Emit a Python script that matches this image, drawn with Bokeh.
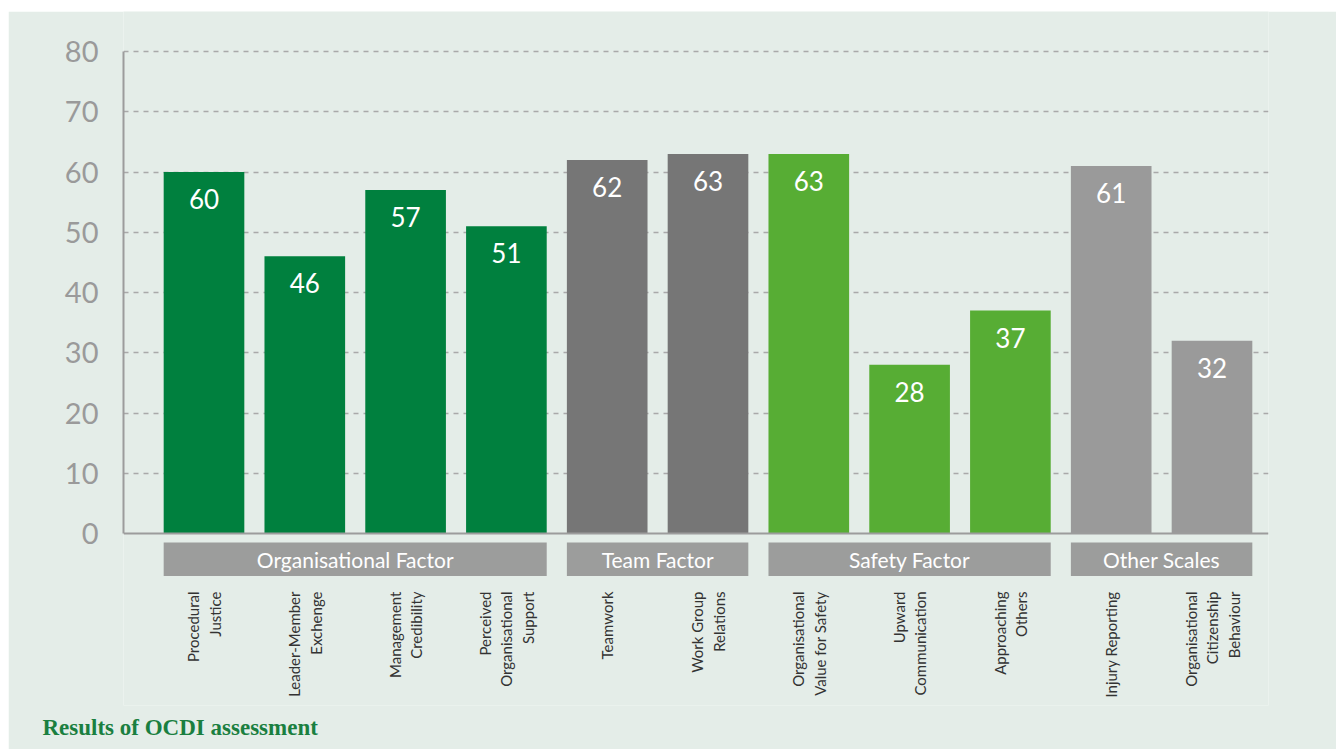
import math
from bokeh.plotting import figure
from bokeh.models import Range1d, FixedTicker, ColumnDataSource, Title, Spacer
from bokeh.layouts import column, row
from bokeh.core.properties import value
from bokeh.embed import file_html
from bokeh.resources import INLINE

# ---------------- data ----------------
categories = [
    "Procedural\nJustice",
    "Leader-Member\nExchenge",
    "Management\nCredibility",
    "Perceived\nOrganisational\nSupport",
    "Teamwork",
    "Work Group\nRelations",
    "Organisational\nValue for Safety",
    "Upward\nCommunication",
    "Approaching\nOthers",
    "Injury Reporting",
    "Organisational\nCitizenship\nBehaviour",
]
scores = [60, 46, 57, 51, 62, 63, 63, 28, 37, 61, 32]
groups = ["Organisational Factor"] * 4 + ["Team Factor"] * 2 + ["Safety Factor"] * 3 + ["Other Scales"] * 2
group_names = ["Organisational Factor", "Team Factor", "Safety Factor", "Other Scales"]
y_ticks = [0, 10, 20, 30, 40, 50, 60, 70, 80]
title_text = "Results of OCDI assessment"

# ---------------- style ----------------
BG = "#e4ede8"
group_colors = {
    "Organisational Factor": "#00803e",
    "Team Factor": "#767676",
    "Safety Factor": "#57ad34",
    "Other Scales": "#9a9a9a",
}
BOX_GREY = "#9c9d9c"
AXIS_GREY = "#9c9c9c"
GRID_GREY = "#a9a9a9"
FONT = "Lato"

# page geometry (page pixels)
FIG_LEFT, FIG_TOP = 8, 11
W, H = 1328, 738
FRAME_L, FRAME_R = 123, 1268
FRAME_T, FRAME_B = FIG_TOP, 705
Y0_PX = 533
px_per_unit = 6.025
bar_c0, bar_step = 203.5, 100.8

x_start = (FRAME_L - bar_c0) / bar_step
x_end = (FRAME_R - bar_c0) / bar_step
y_end = (Y0_PX - FRAME_T) / px_per_unit
y_start = -(FRAME_B - Y0_PX) / px_per_unit

p = figure(
    width=W, height=H, output_backend="svg", toolbar_location=None,
    x_range=Range1d(x_start, x_end), y_range=Range1d(y_start, y_end),
    x_axis_location=None, title=None,
    min_border_left=FRAME_L - FIG_LEFT, min_border_right=FIG_LEFT + W - FRAME_R,
    min_border_top=0, min_border_bottom=FIG_TOP + H - FRAME_B,
)
p.background_fill_color = BG
p.border_fill_color = BG
p.outline_line_color = None
p.xgrid.visible = False

# y grid
p.ygrid.ticker = FixedTicker(ticks=[t for t in y_ticks if t > 0])
p.ygrid.grid_line_color = GRID_GREY
p.ygrid.grid_line_width = 1.5
p.ygrid.grid_line_dash = "5 5"

# y axis
ax = p.yaxis[0]
ax.ticker = FixedTicker(ticks=y_ticks)
ax.bounds = (0, 80)
ax.axis_line_color = AXIS_GREY
ax.axis_line_width = 2
ax.major_tick_line_color = None
ax.minor_tick_line_color = None
ax.major_label_standoff = 19
ax.major_label_text_font = FONT
ax.major_label_text_font_size = "29px"
ax.major_label_text_color = "#9a9a9a"

# bars
idx = list(range(len(categories)))
src = ColumnDataSource(dict(
    x=idx, top=scores, color=[group_colors[g] for g in groups],
    label=[str(v) for v in scores],
))
p.vbar(x="x", top="top", bottom=0, width=0.8, fill_color="color", line_color=None, source=src)

# baseline
p.segment(x0=[x_start], y0=[0], x1=[x_end], y1=[0], line_color=AXIS_GREY, line_width=2)

# value labels
p.text(x="x", y="top", text="label", source=src, text_align="center", text_baseline="middle",
       y_offset=27, text_color="white", text_font=value(FONT), text_font_size="26px")

# group boxes
box_top = -(542 - Y0_PX) / px_per_unit
box_bot = -(575.5 - Y0_PX) / px_per_unit
gl, gr, gc = [], [], []
for g in group_names:
    ii = [i for i, gg in enumerate(groups) if gg == g]
    gl.append(min(ii) - 0.4)
    gr.append(max(ii) + 0.4)
    gc.append((min(ii) + max(ii)) / 2)
p.quad(left=gl, right=gr, top=box_top, bottom=box_bot, fill_color=BOX_GREY, line_color=None)
p.text(x=gc, y=(box_top + box_bot) / 2, text=group_names, text_align="center", text_baseline="middle",
       text_color="white", text_font=value(FONT), text_font_size="21px")

# category labels (rotated)
lx, ly, lt, lo = [], [], [], []
label_top = -(591 - Y0_PX) / px_per_unit
for i, c in enumerate(categories):
    lines = c.split("\n")
    n = len(lines)
    for k, ln in enumerate(lines):
        lx.append(i)
        ly.append(label_top)
        lt.append(ln)
        lo.append((k - (n - 1) / 2) * 21.5)
p.text(x=lx, y=ly, text=lt, x_offset=lo, angle=math.pi / 2, text_align="right", text_baseline="middle",
       text_color="#333333", text_font=value(FONT), text_font_size="15px")

# caption
cap = Title(text=title_text, align="left", offset=42 - FRAME_L, standoff=14,
            text_font="Liberation Serif", text_font_style="bold",
            text_font_size="23px", text_color="#1a7f40")
p.add_layout(cap, "below")

layout = row(Spacer(width=FIG_LEFT, height=10), column(Spacer(height=FIG_TOP, width=10), p, spacing=0), spacing=0)
open("out.html", "w").write(file_html(layout, INLINE))
